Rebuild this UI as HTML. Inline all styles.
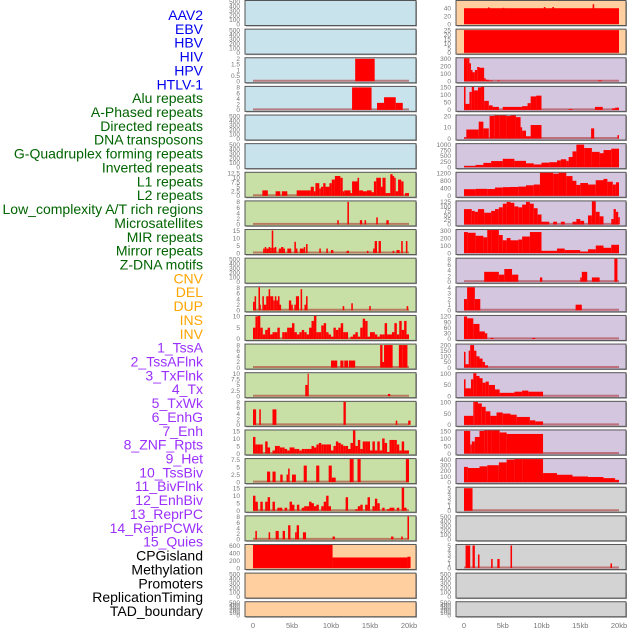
<!DOCTYPE html>
<html><head><meta charset="utf-8"><style>
body{margin:0;background:#fff;width:630px;height:630px;overflow:hidden}
svg{display:block}
</style></head><body>
<svg id="c" width="630" height="630" xmlns="http://www.w3.org/2000/svg"></svg>
<script>
// ---------- data ----------
const labels=["AAV2","EBV","HBV","HIV","HPV","HTLV-1","Alu repeats","A-Phased repeats","Directed repeats","DNA transposons","G-Quadruplex forming repeats","Inverted repeats","L1 repeats","L2 repeats","Low_complexity A/T rich regions","Microsatellites","MIR repeats","Mirror repeats","Z-DNA motifs","CNV","DEL","DUP","INS","INV","1_TssA","2_TssAFlnk","3_TxFlnk","4_Tx","5_TxWk","6_EnhG","7_Enh","8_ZNF_Rpts","9_Het","10_TssBiv","11_BivFlnk","12_EnhBiv","13_ReprPC","14_ReprPCWk","15_Quies","CPGisland","Methylation","Promoters","ReplicationTiming","TAD_boundary"];
const labelGroups=[6,13,5,15,5];
const xTicks=[0,5,10,15,20];
const xTickLabels=["0","5kb","10kb","15kb","20kb"];
const t500=[0,100,200,300,400,500];
// segments [startKb,endKb,value]
const L3=[[13.1,15.6,2]];
const L4=[[12.7,15.2,8],[15.9,16.8,2.5],[16.8,18.3,4.5],[18.3,19.2,2.5]];
const L7=[[1.2,1.9,3],[2.9,3.5,2.5],[3.7,4.4,2.5],[5.6,7.4,3],[7.4,7.8,5],[7.8,8.0,2.5],[8.0,8.5,7],[8.5,8.7,4],[8.7,9.0,5],[9.0,9.3,7],[9.3,9.8,5],[9.8,10.1,7],[10.1,10.5,9],[10.5,11.2,11],[11.2,11.5,10],[11.5,11.7,2.5],[11.7,12.5,3],[12.5,12.7,1.5],[12.7,13.4,8],[13.4,13.6,10],[13.6,14.1,3],[14.1,14.6,2.5],[14.6,15.2,3],[15.2,15.5,2],[15.5,15.8,8],[15.8,16.4,10],[16.4,16.6,5],[16.6,17.0,10],[17.0,17.6,1.5],[17.6,17.9,12],[17.9,18.1,11],[18.1,18.3,10],[18.3,18.6,2.5],[18.6,19.0,9],[19.0,19.3,8],[19.5,20,1.5]];
const L8=[[10.8,11.0,1.5],[12.1,12.3,8],[13.7,14.0,1.5],[14.3,14.5,1.5],[15.8,16.0,2.5],[17.1,17.4,1.5]];
const L9=[[1.3,1.5,3],[1.5,1.7,4],[1.7,2.0,3],[2.0,2.2,4],[2.2,2.4,3.5],[2.4,2.6,15],[2.6,2.8,3.5],[2.8,3.0,4],[3.3,3.6,3],[3.6,3.9,4],[3.9,4.1,3],[4.4,4.9,3],[5.3,5.5,7.5],[5.5,5.7,3],[6.0,6.5,3],[6.5,6.7,4],[6.8,7.0,6],[8.5,8.7,3],[9.4,9.6,3],[10.0,10.3,2],[12.0,12.3,1.5],[14.6,14.8,1.5],[15.4,15.6,3],[15.6,15.9,8],[16.1,16.4,8],[17.9,18.1,1.5],[18.4,18.8,2],[19.0,19.2,8],[19.6,19.8,8]];
const L11=[[0,0.2,3],[0.2,0.4,5],[0.7,0.9,8.5],[0.9,1.0,2],[1.2,1.4,5],[1.4,1.7,2],[1.7,2.0,5],[2.0,2.2,7.5],[2.2,2.6,5],[2.6,2.8,3.5],[2.8,3.0,5],[3.0,3.2,3.5],[3.2,3.4,5],[3.4,3.6,2],[4.6,4.9,3.5],[4.9,5.1,2],[5.3,5.5,2],[5.5,5.9,5],[6.1,6.3,7.5],[6.6,6.8,2],[6.8,7.0,5],[11.5,11.7,1.5],[12.6,12.8,2.5],[14.9,15.1,1.5],[19.7,19.9,1.5]];
const L12bins=[5,10,12,5,2,4,5,2,3,3,5,0,3,3,5,5,7,3,2,3,4,3,2,5,8,13,3,3,6,7,3,2,1,5,4,5,7,3,3,0,1,2,3,1,5,9,8,1,3,3,2,1,2,2,7,2,2,3,7,2,8,4,8,2];
const L13=[[10.0,10.8,2.5],[11.2,11.6,2.5],[11.7,12.2,2.5],[12.3,13.1,2.5],[16.3,16.6,8],[16.6,16.8,2],[16.8,17.9,8],[18.7,19.2,8],[19.2,19.8,8]];
const L14=[[6.7,7.0,5],[7.0,7.15,10],[17.3,17.6,1]];
const L15=[[0,0.4,5.5],[0.8,1.0,5.5],[2.5,3.0,5.5],[11.6,11.9,8.5],[18.3,18.5,1.5],[19.9,20.2,1.5]];
const L16bins=[11,6,6,6,0,8,4,0,2,5,5,4,4,3,2,4,4,3,3,2,3,3,3,3,5,4,6,7,6,6,6,6,2,5,8,7,6,5,5,3,7,17,5,9,3,8,8,8,2,8,2,8,2,10,7,1,9,9,9,6,2,8,2,2];
const L17=[[1.8,2.2,3.5],[2.5,2.9,3.5],[3.5,3.8,2.5],[4.3,4.5,2.5],[4.5,4.7,4.5],[5.0,5.5,2.5],[6.5,6.9,5.5],[8.1,8.5,5.5],[9.7,10.1,5.5],[10.1,10.6,1.5],[12.4,12.7,9.5],[12.7,12.9,8],[13.4,13.8,8],[19.6,20.0,8]];
const L18bins=[10,6,0,6,0,6,9,0,6,0,2,2,0,2,0,6,4,0,4,0,2,3,3,6,5,3,4,0,3,6,10,3,0,0,0,0,0,0,9,0,0,0,1,3,4,0,4,9,0,3,8,5,0,2,0,1,2,2,0,2,0,17,2,0];
const L19=[[0.3,0.5,3],[2.0,2.2,2.5],[2.9,3.3,3],[3.8,4.1,3],[4.5,4.8,5],[5.4,5.6,2.5],[5.6,5.9,5],[6.4,6.8,2.5],[10.2,10.5,1],[17.7,18.0,1],[19.0,19.2,1],[19.8,20.0,8.5]];
const L20=[[0,10.2,620],[10.2,19.8,280],[19.8,20.2,300]];
const R1=[[0,20,40],[3.1,3.3,42],[5.0,5.2,41],[10.3,10.5,43],[11.4,11.6,43],[16.6,16.8,50]];
const R2=[[0,20,25]];
const R3=[[0,0.5,350],[0.5,0.7,340],[0.7,0.9,240],[0.9,1.1,150],[1.1,1.4,120],[1.4,1.7,150],[1.7,2.0,190],[2.0,2.6,180],[2.6,2.8,40],[2.8,3.2,20],[3.2,3.7,10],[4.3,4.6,10],[17.3,17.8,10]];
const R4=[[0,0.2,175],[0.2,0.7,40],[0.7,1.0,120],[1.0,1.3,160],[1.3,1.8,130],[1.8,2.2,150],[2.2,2.6,170],[2.6,3.2,60],[3.2,3.7,30],[3.7,4.5,20],[5.0,7.5,20],[7.5,8.2,25],[8.2,8.6,45],[8.6,9.3,90],[9.3,10.0,95],[13.5,14.0,5],[16.9,17.9,20],[19.1,19.5,10],[19.5,20,15]];
const R5=[[0,0.3,1],[0.3,1.9,8],[1.9,2.5,15],[2.5,3.2,9],[3.3,3.9,20],[3.9,4.6,26],[4.6,5.5,22],[5.5,6.0,20],[6.0,6.7,21],[6.7,7.3,19],[7.3,7.5,10],[7.5,8.0,7],[8.0,8.6,2],[8.6,10.0,12],[16.4,16.8,9],[19.8,20,3]];
const R6=[[0,1.5,50],[1.5,2.5,100],[2.5,3.5,190],[3.5,5,270],[5,6.5,370],[6.5,8,280],[8,9,170],[9,10,120],[10,11,200],[11,12,220],[12,12.5,300],[12.5,13.2,350],[13.2,13.5,280],[13.5,14,450],[14,14.5,700],[14.5,15.5,1000],[15.5,16.5,850],[16.5,17.5,680],[17.5,18,620],[18,19,760],[19,20,820]];
const R7=[[0,1.5,350],[1.5,3,370],[3,4,360],[4,5,440],[5,6,460],[6,7,470],[7,8,490],[8,9,560],[9,9.8,600],[9.8,11.5,1250],[11.5,12.2,1180],[12.2,13.2,1230],[13.2,14,1050],[14,14.5,800],[14.5,15,580],[15,16,680],[16,17,600],[17,18,830],[18,18.5,900],[18.5,19.2,750],[19.2,19.6,600],[19.6,20,720]];
const R8=[[0,1,85],[1,1.4,75],[1.4,1.8,70],[1.8,2.6,85],[2.6,3.5,65],[3.5,4,75],[4,4.5,85],[4.5,5,95],[5,5.5,115],[5.5,6,125],[6,6.5,120],[6.5,7,100],[7,7.5,95],[7.5,8,110],[8,8.5,125],[8.5,9,115],[9,9.5,90],[9.5,10,55],[10,11,15],[11.5,12,15],[12.5,13,15],[14,14.5,15],[14.5,15,30],[15,15.5,20],[16,16.5,50],[16.5,17,130],[17,17.5,70],[17.5,18,45],[19,19.3,30],[19.3,19.6,85],[19.6,19.9,70],[19.9,20.1,40]];
const R9=[[0,0.5,280],[0.5,1.5,270],[1.5,2.5,230],[2.5,3,210],[3,3.5,320],[3.5,4,380],[4,4.5,320],[4.5,5,240],[5,5.5,170],[5.5,6,200],[6,7,170],[7,7.5,180],[7.5,8.5,220],[8.5,10,280],[10,12,30],[12,13,60],[13,15,40],[15,16,20],[16,17,50],[17,18,100],[18,19,70],[19,20,110]];
const R10=[[2.6,4.5,3.5],[4.5,5.2,2.5],[5.2,6.2,4.5],[6.2,7.0,2.5],[9.8,10.1,1.5],[15.0,15.2,1.5],[15.2,15.9,3.5],[16.5,17.5,1.5],[19.4,19.8,8.5]];
const R11=[[0,0.4,2],[0.4,1.4,4.5],[1.4,2.1,2],[14.4,15.2,1]];
const R12=[[0,0.4,120],[0.4,1.2,110],[1.2,2.0,80],[2.0,2.7,40],[2.7,3.0,30],[3.4,3.8,5],[8.8,9.2,5]];
const R13=[[0,0.2,140],[0.2,0.6,30],[0.6,0.8,150],[0.8,1.3,200],[1.3,1.6,150],[1.6,2.0,100],[2.0,2.4,80],[2.4,2.7,50],[2.7,3.1,20]];
const R13b=[[0,0.2,75],[0.2,0.9,35],[0.9,1.2,75],[1.2,1.6,130],[1.6,2.0,90],[2.0,2.4,80],[2.4,2.8,60],[2.8,3.2,65],[3.2,4.0,50],[4.0,4.6,30],[4.6,6.5,15],[6.5,7.5,20],[7.5,8.3,25],[8.3,10.2,20]];
const R14=[[0,1.2,40],[1.2,1.4,120],[1.4,1.8,140],[1.8,2.3,95],[2.3,2.8,80],[2.8,3.4,60],[3.4,4.2,40],[4.2,5,55],[5,6,50],[6,6.8,45],[6.8,8.5,35],[8.5,9.2,20],[9.2,10.2,15]];
const R15=[[0,0.8,150],[0.8,1.0,60],[1.0,1.4,80],[1.4,2.0,110],[2.0,2.6,150],[2.6,3.0,175],[3.0,3.6,165],[3.6,4.6,175],[4.6,5.5,140],[5.5,10.2,130]];
const R16=[[0,0.5,270],[0.5,2,250],[2,3,280],[3,4.5,300],[4.5,5.5,350],[5.5,6.5,400],[6.5,7.5,430],[7.5,10.2,460],[10.2,12,160],[12,14,130],[14,16,100],[16,18,90],[18,19.5,70],[19.5,20,40]];
const R17=[[0,1.1,5]];
const R19=[[0.2,0.8,5],[1.1,1.4,5],[1.8,2.0,3],[3.5,3.7,2],[4.3,4.6,2],[6.0,6.2,5],[18.9,19.1,1]];

function binsToSegs(b){const w=20/b.length;return b.map((v,i)=>[i*w,(i+1)*w,v]);}
const BLUE="#c8e3eb",GREEN="#c8e0a6",PEACH="#ffcf9f",PURP="#d5c6e0",GREY="#d3d3d3";
const leftPanels=[
 [BLUE,t500,null],[BLUE,t500,null],[BLUE,[0,0.5,1,1.5,2],L3],[BLUE,[0,2,4,6,8],L4],[BLUE,t500,null],[BLUE,t500,null],
 [GREEN,[0,2.5,5,7.5,10,12.5],L7],[GREEN,[0,2,4,6,8],L8],[GREEN,[0,5,10,15],L9],[GREEN,t500,null],[GREEN,[0,2,4,6,8],L11],
 [GREEN,[0,5,10],binsToSegs(L12bins)],[GREEN,[0,2,4,6,8],L13],[GREEN,[0,2.5,5,7.5,10],L14],[GREEN,[0,2,4,6,8],L15],
 [GREEN,[0,5,10,15],binsToSegs(L16bins)],[GREEN,[0,2.5,5,7.5],L17],[GREEN,[0,5,10,15],binsToSegs(L18bins)],[GREEN,[0,2,4,6,8],L19],
 [PEACH,[0,200,400,600],L20],[PEACH,t500,null],[PEACH,t500,null]];
const rightPanels=[
 [PEACH,[0,20,40],R1,57],[PEACH,[0,5,10,15,20,25],R2],[PURP,[0,100,200,300],R3],[PURP,[0,50,100,150],R4],[PURP,[0,10,20],R5],
 [PURP,[0,250,500,750,1000],R6],[PURP,[0,400,800,1200],R7],[PURP,[0,25,50,75,100,125],R8],[PURP,[0,100,200,300],R9],
 [PURP,[0,2,4,6,8],R10],[PURP,[0,1,2,3,4],R11],[PURP,[0,30,60,90,120],R12],[PURP,[0,50,100,150,200],R13],[PURP,[0,50,100],R13b],[PURP,[0,50,100],R14],
 [PURP,[0,50,100,150],R15],[PURP,[0,100,200,300,400],R16],[GREY,[0,1,2,3,4,5],R17],[GREY,t500,null],[GREY,[0,1,2,3,4,5],R19],
 [GREY,t500,null],[GREY,t500,null]];

// ---------- drawing ----------
const svg=document.getElementById('c');const NS="http://www.w3.org/2000/svg";
function mk(tag,attrs,parent,txt){const e=document.createElementNS(NS,tag);for(const k in attrs)e.setAttribute(k,attrs[k]);if(txt!==undefined)e.textContent=txt;(parent||svg).appendChild(e);return e;}
const groupColors=["#0000ee","#006400","#ffa500","#9b30ff","#000000"];
let gi=0,cnt=0;
labels.forEach((lab,i)=>{
  while(cnt>=labelGroups[gi]){cnt=0;gi++;}
  cnt++;
  const t=mk('text',{x:203,y:15+i*13.86+5,'text-anchor':'end','font-family':'Liberation Sans, sans-serif','font-size':'14',fill:groupColors[gi]},svg,lab);
  
  
});
function drawColumn(panels,px0,px1,x0,x20,tickX,colName){
  const xs=kb=>x0+(x20-x0)*kb/20;
  panels.forEach((p,i)=>{
    const [bg,ticks,segs,ymax]=p;
    const top=i*28.63+0.5, h=(i==21)?15:25;
    const g=mk('g',{});
    
    
    mk('rect',{x:px0+1,y:top+1,width:px1-px0,height:h,fill:'#999'},g);
    mk('rect',{x:px0,y:top,width:px1-px0,height:h,fill:bg,stroke:'#555','stroke-width':1},g);
    const maxT=ymax||ticks[ticks.length-1];
    const yb=top+h-1.5, yt=top+1;
    const ys=v=>yb-(yb-yt)*v/maxT;
    ticks.forEach(tv=>{
      const tl=mk('text',{x:tickX,y:ys(tv)+2.3,'text-anchor':'end','font-family':'Liberation Sans, sans-serif','font-size':'6.5',fill:'#777'},g,String(tv));
      
      
    });
    if(segs){
      mk('line',{x1:xs(0),x2:xs(20),y1:yb-0.5,y2:yb-0.5,stroke:'rgba(170,40,40,0.55)','stroke-width':2},g);
      segs.forEach(s=>{
        const yv=Math.max(top+0.5,ys(s[2]));
        const r=mk('rect',{x:xs(s[0]),y:yv,width:Math.max(0.8,xs(s[1])-xs(s[0])),height:yb-yv,fill:'#ff0000'},g);
        
        
      });
    }
  });
  xTicks.forEach((k,j)=>{
    const t=mk('text',{x:xs(k),y:628,'text-anchor':'middle','font-family':'Liberation Sans, sans-serif','font-size':'7.5',fill:'#777'},svg,xTickLabels[j]);
    
    
  });
}
drawColumn(leftPanels,245,416,253,409,240,'left');
drawColumn(rightPanels,456,626,464,619,451,'right');
</script>
</body></html>
